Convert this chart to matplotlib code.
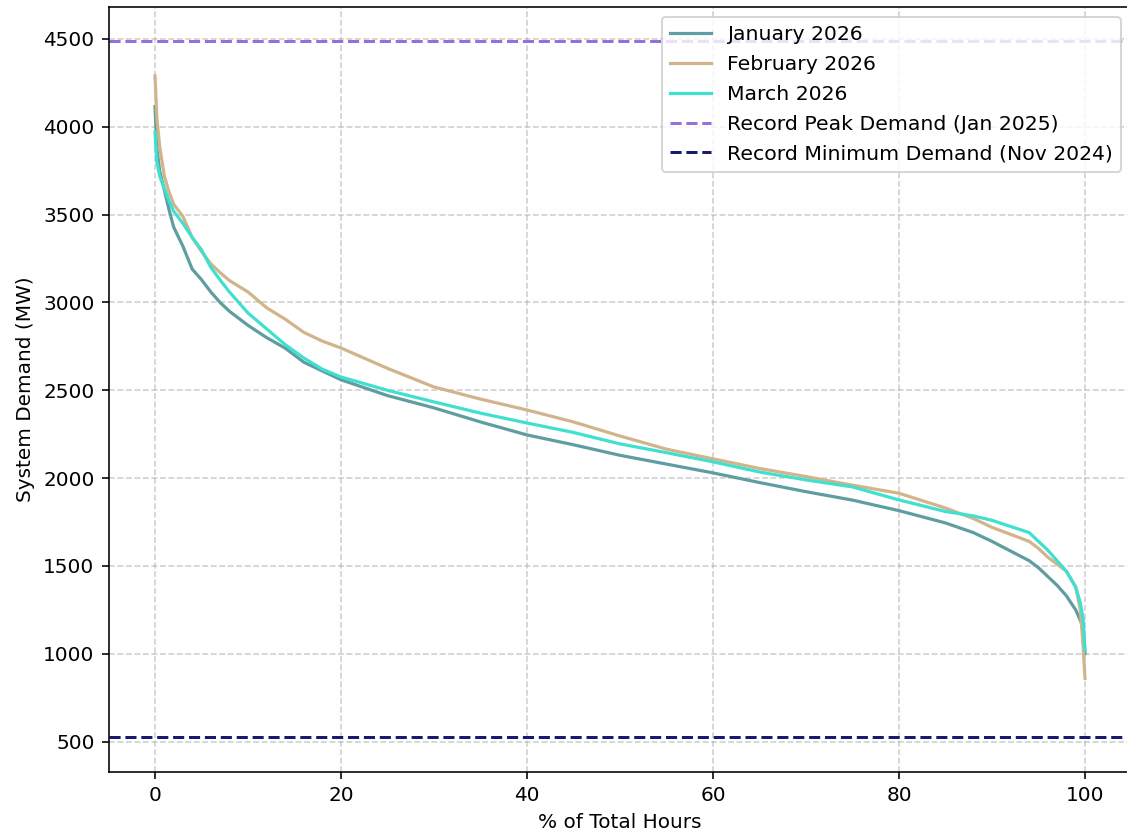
import matplotlib
matplotlib.use("Agg")
import matplotlib.pyplot as plt
import numpy as np

pct = [0, 0.2, 0.5, 1, 1.5, 2, 3, 4, 5, 6, 7, 8, 10, 12, 14, 16, 18, 20, 25, 30,
       35, 40, 45, 50, 55, 60, 65, 70, 75, 80, 85, 88, 90, 92, 94, 95, 96, 97, 98,
       99, 99.5, 99.8, 100]

jan_2026 = [4115, 3880, 3750, 3640, 3530, 3430, 3320, 3190, 3130, 3060, 3000, 2950,
            2870, 2800, 2740, 2660, 2610, 2560, 2470, 2400, 2320, 2246, 2190, 2130,
            2080, 2030, 1975, 1923, 1875, 1815, 1745, 1690, 1640, 1585, 1530, 1490,
            1440, 1390, 1330, 1250, 1190, 1150, 1000]

feb_2026 = [4290, 4050, 3890, 3720, 3630, 3560, 3490, 3370, 3290, 3220, 3170, 3125,
            3060, 2970, 2905, 2830, 2780, 2741, 2625, 2519, 2450, 2388, 2320, 2240,
            2165, 2110, 2055, 2009, 1960, 1914, 1830, 1770, 1720, 1680, 1640, 1600,
            1550, 1510, 1470, 1380, 1250, 1040, 860]

mar_2026 = [3970, 3800, 3720, 3650, 3580, 3520, 3450, 3370, 3300, 3200, 3128, 3060,
            2940, 2850, 2760, 2684, 2620, 2576, 2500, 2434, 2370, 2314, 2260, 2195,
            2145, 2093, 2035, 1990, 1950, 1876, 1810, 1785, 1760, 1725, 1690, 1640,
            1590, 1530, 1470, 1380, 1290, 1200, 1020]

series_labels = ["January 2026", "February 2026", "March 2026"]
record_peak = 4490
record_min = 528
peak_label = "Record Peak Demand (Jan 2025)"
min_label = "Record Minimum Demand (Nov 2024)"

fig = plt.figure(figsize=(1127/144, 835/144), dpi=144)
ax = fig.add_axes([108.5/1127, 1 - 771.7/835, 1023/1127, (771.7 - 7)/835])

colors = ["#5F9EA0", "#D2B48C", "#40E0D0"]
for vals, lab, c in zip([jan_2026, feb_2026, mar_2026], series_labels, colors):
    ax.plot(pct, vals, color=c, lw=1.6, label=lab)

ax.axhline(record_peak, color="#9370DB", linestyle="--", lw=1.5, label=peak_label)
ax.axhline(record_min, color="#191970", linestyle="--", lw=1.5, label=min_label)

ax.set_xlim(-5, 105)
ax.set_ylim(329, 4682)
ax.set_xlabel("% of Total Hours")
ax.set_ylabel("System Demand (MW)")
ax.grid(True, linestyle="--", alpha=0.6)
ax.spines["right"].set_visible(False)
ax.legend(loc="upper right", fontsize=10.2, labelspacing=0.53)

fig.savefig("out.png", dpi=144)
